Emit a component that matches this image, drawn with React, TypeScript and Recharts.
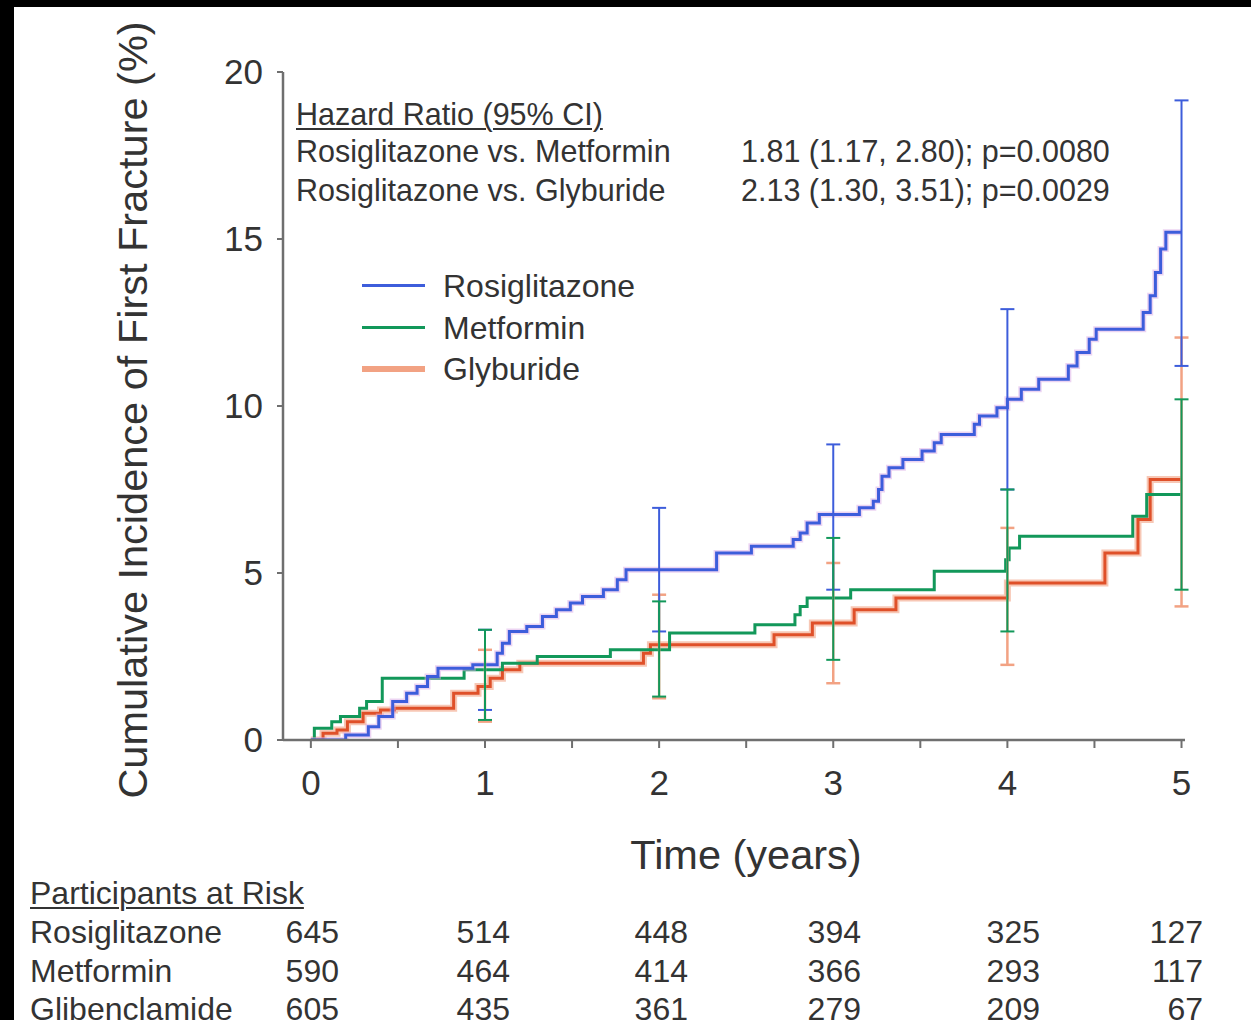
import React from "react";
import { ComposedChart, Line, Scatter, ErrorBar, XAxis, YAxis } from "recharts";

// Kaplan-Meier step points (years, cumulative %)
const rosiTime = [0, 0.2, 0.33, 0.39, 0.47, 0.55, 0.61, 0.67, 0.73, 0.93, 1.07, 1.1, 1.14, 1.24, 1.33, 1.41, 1.49, 1.56, 1.68, 1.76, 1.81, 2.33, 2.53, 2.77, 2.81, 2.85, 2.92, 3.15, 3.23, 3.26, 3.28, 3.32, 3.4, 3.51, 3.58, 3.62, 3.81, 3.84, 3.94, 4.0, 4.08, 4.18, 4.35, 4.4, 4.47, 4.51, 4.78, 4.82, 4.85, 4.88, 4.91, 5.0];
const rosiPct = [0, 0.15, 0.4, 0.7, 1.15, 1.4, 1.6, 1.9, 2.15, 2.25, 2.6, 2.9, 3.25, 3.4, 3.7, 3.9, 4.1, 4.3, 4.5, 4.8, 5.1, 5.6, 5.8, 6.0, 6.2, 6.5, 6.75, 6.95, 7.15, 7.5, 7.9, 8.15, 8.4, 8.65, 8.9, 9.15, 9.45, 9.7, 9.95, 10.2, 10.5, 10.8, 11.2, 11.6, 12.0, 12.3, 12.8, 13.3, 14.0, 14.7, 15.2, 15.2];

const metTime = [0, 0.02, 0.12, 0.17, 0.28, 0.32, 0.41, 0.88, 1.1, 1.3, 1.72, 2.06, 2.55, 2.78, 2.81, 2.85, 3.1, 3.58, 3.99, 4.01, 4.07, 4.72, 4.8, 5.0];
const metPct = [0, 0.35, 0.55, 0.7, 0.95, 1.15, 1.85, 2.1, 2.3, 2.5, 2.7, 3.2, 3.45, 3.75, 4.0, 4.25, 4.5, 5.05, 5.4, 5.75, 6.1, 6.7, 7.35, 7.35];

const glyTime = [0, 0.07, 0.15, 0.21, 0.3, 0.4, 0.48, 0.82, 0.96, 1.03, 1.1, 1.2, 1.91, 1.95, 2.66, 2.88, 3.12, 3.36, 4.0, 4.56, 4.75, 4.82, 5.0];
const glyPct = [0, 0.2, 0.3, 0.55, 0.8, 0.9, 0.95, 1.4, 1.6, 1.85, 2.1, 2.3, 2.6, 2.85, 3.15, 3.5, 3.9, 4.25, 4.7, 5.6, 6.6, 7.8, 7.8];

// 95% CI bars at each year
const ciYears = [1, 2, 3, 4, 5];
const rosiLow = [0.9, 3.25, 4.5, 7.5, 11.2];
const rosiHigh = [3.3, 6.95, 8.85, 12.9, 19.15];
const metLow = [0.6, 1.3, 2.4, 3.25, 4.5];
const metHigh = [3.3, 4.15, 6.05, 7.5, 10.2];
const glyLow = [0.55, 1.25, 1.7, 2.25, 4.0];
const glyHigh = [2.7, 4.35, 5.3, 6.35, 12.05];

const yTicks = [0, 5, 10, 15, 20];
const xTicks = [0, 0.5, 1, 1.5, 2, 2.5, 3, 3.5, 4, 4.5, 5];

const hrTitle = "Hazard Ratio (95% CI)";
const hrLabels = ["Rosiglitazone vs. Metformin", "Rosiglitazone vs. Glyburide"];
const hrValues = ["1.81 (1.17, 2.80); p=0.0080", "2.13 (1.30, 3.51); p=0.0029"];

const riskGroups = ["Rosiglitazone", "Metformin", "Glibenclamide"];
const rosiRisk = [645, 514, 448, 394, 325, 127];
const metRisk = [590, 464, 414, 366, 293, 117];
const glyRisk = [605, 435, 361, 279, 209, 67];

const BLUE = "#3d5ddb";
const GREEN = "#12985a";
const RED = "#df5029";
const SALMON = "#f2a283";
const AXIS = "#6f6f6f";
const TEXT = "#333";

const steps = (t: number[], p: number[]) => t.map((x, i) => ({ x, y: p[i] }));
const bars = (lo: number[], hi: number[]) =>
  ciYears.map((x, i) => ({ x, y: lo[i], err: [0, hi[i] - lo[i]] }));

const rosiData = steps(rosiTime, rosiPct);
const metData = steps(metTime, metPct);
const glyData = steps(glyTime, glyPct);

const riskCols = [339, 510, 688, 861, 1040, 1203];

const font = '"Liberation Sans", Arial, sans-serif';

function Hidden() {
  return <g />;
}

export default function App() {
  const abs = (s: React.CSSProperties): React.CSSProperties => ({ position: "absolute", whiteSpace: "nowrap", ...s });
  return (
    <div
      style={{
        position: "absolute",
        left: 0,
        top: 0,
        width: 1251,
        height: 1020,
        background: "#fff",
        overflow: "hidden",
        fontFamily: font,
        color: TEXT,
      }}
    >
      <div style={abs({ left: 0, top: 0, width: 1251, height: 7, background: "#000" })} />
      <div style={abs({ left: 0, top: 0, width: 14, height: 1020, background: "#000" })} />

      <div style={abs({ left: 0, top: 0 })}>
        <ComposedChart width={1251} height={1020} margin={{ top: 72, right: 66, bottom: 220, left: 203 }}>
          <XAxis
            dataKey="x"
            type="number"
            domain={[-0.16, 5.02]}
            allowDataOverflow
            ticks={xTicks}
            interval={0}
            tickFormatter={(v: number) => (Number.isInteger(v) ? String(v) : "")}
            height={60}
            tickSize={8}
            tickMargin={22}
            axisLine={{ stroke: AXIS, strokeWidth: 2.5 }}
            tickLine={{ stroke: AXIS, strokeWidth: 2 }}
            tick={{ fill: TEXT, fontSize: 35 }}
          />
          <YAxis
            dataKey="y"
            type="number"
            domain={[0, 20]}
            allowDataOverflow
            ticks={yTicks}
            interval={0}
            width={80}
            tickSize={6}
            tickMargin={14}
            axisLine={{ stroke: AXIS, strokeWidth: 2.5 }}
            tickLine={{ stroke: AXIS, strokeWidth: 2 }}
            tick={{ fill: TEXT, fontSize: 35 }}
          />

          <Line data={glyData} dataKey="y" type="stepAfter" stroke={SALMON} strokeWidth={7} strokeOpacity={0.6} dot={false} activeDot={false} isAnimationActive={false} />
          <Line data={glyData} dataKey="y" type="stepAfter" stroke={RED} strokeWidth={3} dot={false} activeDot={false} isAnimationActive={false} />
          <Line data={metData} dataKey="y" type="stepAfter" stroke={GREEN} strokeWidth={3} dot={false} activeDot={false} isAnimationActive={false} />
          <Line data={rosiData} dataKey="y" type="stepAfter" stroke="#d9a9e6" strokeWidth={6} strokeOpacity={0.5} dot={false} activeDot={false} isAnimationActive={false} />
          <Line data={rosiData} dataKey="y" type="stepAfter" stroke={BLUE} strokeWidth={3} dot={false} activeDot={false} isAnimationActive={false} />

          <Scatter data={bars(glyLow, glyHigh)} shape={<Hidden />} isAnimationActive={false}>
            <ErrorBar dataKey="err" direction="y" width={7} stroke={SALMON} strokeWidth={2.5} isAnimationActive={false} />
          </Scatter>
          <Scatter data={bars(rosiLow, rosiHigh)} shape={<Hidden />} isAnimationActive={false}>
            <ErrorBar dataKey="err" direction="y" width={7} stroke={BLUE} strokeWidth={2} isAnimationActive={false} />
          </Scatter>
          <Scatter data={bars(metLow, metHigh)} shape={<Hidden />} isAnimationActive={false}>
            <ErrorBar dataKey="err" direction="y" width={7} stroke={GREEN} strokeWidth={2} isAnimationActive={false} />
          </Scatter>
        </ComposedChart>
      </div>

      {/* axis titles */}
      <div
        style={abs({
          left: 133,
          top: 410,
          fontSize: 41.5,
          lineHeight: "42px",
          transform: "translate(-50%, -50%) rotate(-90deg)",
        })}
      >
        Cumulative Incidence of First Fracture (%)
      </div>
      <div style={abs({ left: 746, top: 855, fontSize: 41.5, lineHeight: "42px", transform: "translate(-50%, -50%)" })}>
        Time (years)
      </div>

      {/* hazard ratio block */}
      <div style={abs({ left: 296, top: 98, fontSize: 30.5, lineHeight: "32px", textDecoration: "underline", textDecorationThickness: 2, textUnderlineOffset: 3 })}>
        {hrTitle}
      </div>
      {hrLabels.map((l, i) => (
        <React.Fragment key={l}>
          <div style={abs({ left: 296, top: 135 + i * 39, fontSize: 30.5, lineHeight: "32px" })}>{l}</div>
          <div style={abs({ left: 741, top: 135 + i * 39, fontSize: 30.5, lineHeight: "32px" })}>{hrValues[i]}</div>
        </React.Fragment>
      ))}

      {/* legend */}
      {[
        ["Rosiglitazone", BLUE],
        ["Metformin", GREEN],
        ["Glyburide", SALMON],
      ].map(([name, c], i) => (
        <React.Fragment key={name}>
          <div style={abs({ left: 362, top: 284 + i * 41.5, width: 63, height: i === 2 ? 6 : 3, marginTop: i === 2 ? -1.5 : 0, background: c })} />
          <div style={abs({ left: 443, top: 269 + i * 41.5, fontSize: 32, lineHeight: "34px" })}>{name}</div>
        </React.Fragment>
      ))}

      {/* participants at risk */}
      <div style={abs({ left: 30, top: 876, fontSize: 32, lineHeight: "34px", textDecoration: "underline", textDecorationThickness: 2, textUnderlineOffset: 3 })}>
        Participants at Risk
      </div>
      {[rosiRisk, metRisk, glyRisk].map((row, r) => (
        <React.Fragment key={riskGroups[r]}>
          <div style={abs({ left: 30, top: 915 + r * 38.5, fontSize: 32, lineHeight: "34px" })}>{riskGroups[r]}</div>
          {row.map((n, c) => (
            <div key={c} style={abs({ left: riskCols[c] - 100, width: 100, textAlign: "right", top: 915 + r * 38.5, fontSize: 32, lineHeight: "34px" })}>
              {n}
            </div>
          ))}
        </React.Fragment>
      ))}
    </div>
  );
}
